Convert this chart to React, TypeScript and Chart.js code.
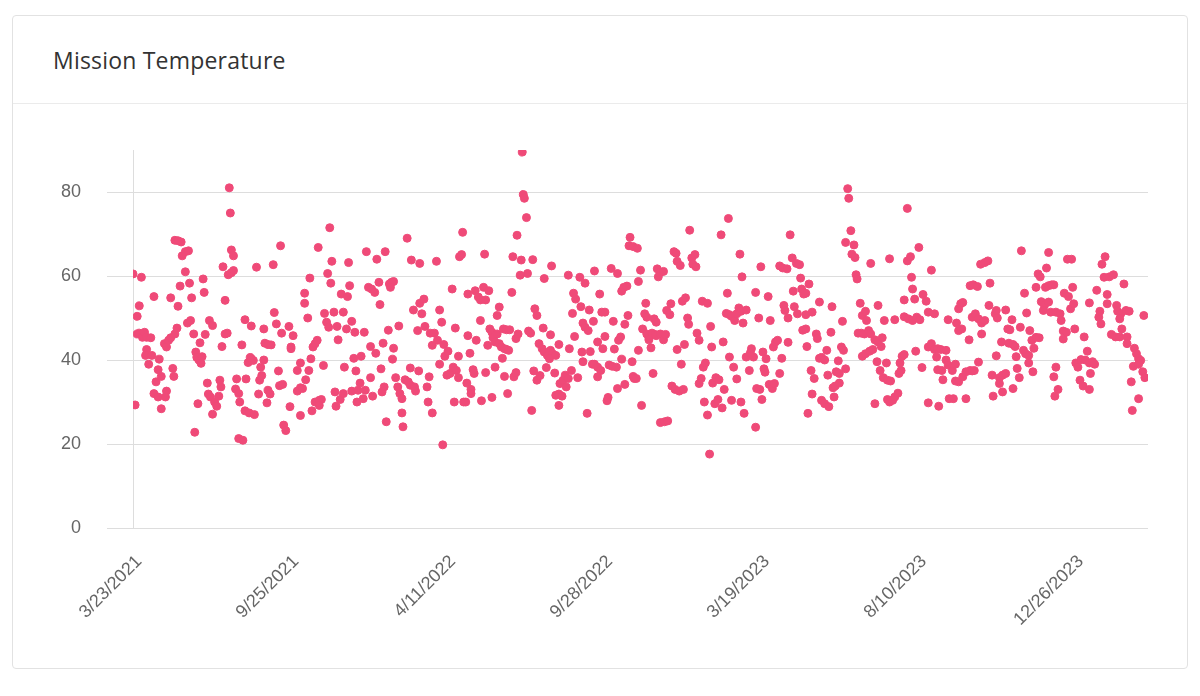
import { useEffect, useRef } from 'react';
import { Chart, registerables } from 'chart.js';

Chart.register(...registerables);

// x축 눈금에 표시되는 날짜 (150 샘플마다 하나)
const tickLabels = ['3/23/2021', '9/25/2021', '4/11/2022', '9/28/2022', '3/19/2023', '8/10/2023', '12/26/2023'];
const tickEvery = 150;
const lastSample = 970;

// 샘플 순번 (x)
const sampleDay = [
  0, 8, 2, 4, 6, 4, 6, 9, 11, 13,
  17, 13, 12, 15, 18, 20, 22, 20, 24, 24,
  25, 27, 27, 30, 32, 34, 36, 40, 42, 32,
  31, 36, 38, 39, 40, 43, 46, 43, 45, 47,
  50, 53, 50, 52, 55, 54, 56, 58, 59, 60,
  61, 63, 65, 66, 64, 62, 67, 68, 69, 71,
  72, 74, 78, 80, 76, 73, 76, 83, 84, 82,
  85, 86, 88, 90, 88, 91, 94, 96, 92, 93,
  94, 96, 99, 98, 101, 102, 101, 105, 104, 107,
  108, 107, 110, 113, 115, 112, 113, 111, 116, 118,
  120, 121, 123, 122, 125, 125, 126, 129, 132, 129,
  131, 128, 134, 135, 137, 139, 140, 143, 142, 141,
  144, 146, 149, 151, 150, 153, 151,
  157, 160, 160, 157, 162, 160, 164, 164, 167, 165,
  168, 169, 170, 171, 172, 174, 176, 174, 178, 180,
  178, 177, 182, 183, 185, 187, 186, 188, 189, 190,
  192, 193, 194, 195, 196, 198, 201, 199, 201, 202,
  204, 205, 206, 207, 209, 209, 211, 212, 213, 214,
  215, 217, 218, 220, 222, 221, 223, 225, 228, 231,
  227, 227, 229, 232, 233, 235, 236, 237, 238, 240,
  239, 241, 242, 244, 245, 247, 249, 246, 248, 249,
  251, 253, 255, 257, 254, 257, 258, 260, 263, 265,
  262, 265, 266, 268, 269, 270, 272, 273, 274, 274,
  276, 278, 279, 281, 282, 283, 284, 288, 286, 286,
  290, 291, 293, 293, 295, 296, 297, 298, 301, 300,
  303, 305, 306, 309, 307, 308, 311, 312, 314, 311,
  315, 316,
  320, 320, 322, 319, 318, 323, 323, 325, 326, 328,
  327, 330, 332, 335, 337, 340, 332, 333, 336, 337,
  339, 341, 343, 344, 346, 348, 350, 352, 355, 357,
  359, 343, 346, 348, 350, 353, 354, 357, 360, 355,
  358, 362, 363, 364, 366, 366, 368, 367, 370, 371,
  372, 373, 374, 376, 377, 378, 380, 381, 382, 383,
  384, 386, 386, 389, 388, 391, 393, 396, 399, 401,
  404, 407, 398, 392, 393, 395, 399, 400, 403, 404,
  407, 410, 407, 408, 411, 414, 413, 416, 416, 417,
  419, 420, 421, 423, 422, 425, 427, 428, 429, 430,
  430, 432, 432, 434, 435, 436, 437, 439, 441, 444,
  447, 440, 441, 444, 444, 446, 448, 451, 449, 451,
  453, 454, 455, 458, 462, 457, 463, 459, 460, 463,
  464, 466, 467, 469, 472, 467, 470, 470, 473, 475,
  474, 478, 477, 478, 479,
  482, 485, 483, 483, 481, 486, 487, 489, 490, 491,
  491, 493, 496, 499, 500, 504, 507, 509, 493, 495,
  497, 498, 500, 501, 504, 507, 502, 504, 508, 511,
  510, 513, 514, 515, 518, 522, 526, 517, 519, 520,
  523, 520, 524, 525, 527, 528, 530, 531, 532, 534,
  535, 538, 537, 539, 541, 541, 543, 544, 549, 545,
  547, 546, 549, 551, 552, 553, 554, 557, 560, 556,
  559, 563, 562, 564, 565, 567, 570, 572, 575, 577,
  579, 581, 583, 586, 568, 569, 570, 572, 574, 577,
  580, 581, 582, 584, 586, 589, 591, 593, 590, 595,
  595, 596, 599, 598, 600, 601, 602, 605, 603, 604,
  607, 608, 611, 613, 609, 612, 614, 616, 618, 621,
  625, 618, 620, 622, 623, 626, 626, 628, 630, 634,
  637, 631, 632, 635, 638, 639, 641, 640,
  646, 643, 643, 649, 643, 644, 645, 648, 651, 649,
  656, 653, 654, 658, 661, 665, 656, 658, 661, 663,
  664, 667, 668, 669, 671, 670, 672, 675, 674, 675,
  678, 677, 679, 681, 683, 684, 686, 681, 689, 687,
  690, 691, 692, 695, 693, 696, 699, 703, 705, 697,
  700, 704, 707, 697, 700, 701, 705, 709, 712, 716,
  715, 709, 711, 714, 712, 717, 720, 721, 724, 718,
  721, 723, 726, 728, 731, 723, 728, 732, 734, 733,
  735, 737, 737, 737, 741, 745, 749, 752, 740, 740,
  743, 751, 744, 745, 747, 748, 755, 758, 754, 760,
  760, 766, 763, 760, 763, 766, 769, 772, 777, 768,
  769, 773, 770, 774, 777, 779, 783, 786, 779, 780,
  784, 786, 789, 793, 787, 789, 792, 789, 791, 793,
  796, 796, 800, 802, 799, 800, 803, 802,
  807, 805, 808, 811, 814, 811, 808, 804, 810, 814,
  817, 819, 818, 821, 822, 824, 826, 825, 825, 828,
  831, 834, 828, 830, 831, 834, 836, 838, 837, 840,
  841, 843, 841, 844, 845, 847, 848, 849, 851, 853,
  856, 852, 854, 856, 857, 859, 860, 861, 863, 866,
  863, 865, 867, 868, 871, 870, 872, 875, 878, 880,
  873, 875, 875, 877, 882, 886, 880, 881, 884, 882,
  887, 889, 889, 892, 890, 894, 893, 897, 896, 898,
  899, 900, 901, 903, 906, 910, 914, 917, 919, 905,
  908, 914, 909, 912, 914, 915, 921, 923, 924, 925,
  926, 929, 928, 933, 937, 931, 931, 935, 939, 943,
  940, 941, 944, 943, 945, 947, 949, 952, 950, 950,
  954, 955, 957, 959, 961, 963, 956, 961, 961, 965,
  967, 966,
];

// 미션 온도 (y)
const missionTemp = [
  60.5, 59.7, 29.3, 50.4, 52.9, 46.2, 46.4, 45.4, 46.6, 45.4,
  45.3, 42.5, 41.1, 39, 41.1, 55.1, 34.8, 32, 31.2, 37.7,
  40.2, 36.1, 28.4, 43.9, 43.1, 44.7, 45.3, 46.2, 47.6, 32.6,
  31.2, 54.8, 38, 36.1, 68.5, 68.4, 68.1, 52.8, 57.6, 64.8,
  65.8, 66, 61, 48.8, 49.4, 58.3, 54.8, 46.2, 22.8, 41.9,
  40.6, 40, 39.2, 40.8, 44.1, 29.6, 59.3, 56.1, 46.1, 34.5,
  31.9, 31.2, 30, 29, 27.1, 49.4, 48.2, 35.2, 33.6, 31.4,
  43.2, 62.2, 46.2, 46.4, 54.2, 60.3, 60.8, 61.3, 81, 75,
  66.2, 64.8, 35.5, 33.1, 32, 30, 21.3, 20.9, 43.6, 49.6,
  35.5, 27.9, 39.4, 40.3, 39.9, 40.6, 48.1, 27.4, 27, 62.1,
  31.9, 35.2, 36.3, 38.3, 40, 47.4, 44, 43.7, 43.6, 32.8,
  31.9, 29.8, 62.7, 51.3, 48.6, 37.4, 33.9, 34.2, 46.4, 67.2,
  24.5, 23.2, 48, 43.1, 28.9, 45.8, 42.7,
  37.5, 39.3, 33.4, 32.6, 33.2, 26.8, 53.5, 55.9, 50, 35.3,
  37.5, 59.5, 40.3, 27.9, 43.1, 43.9, 44.7, 30, 30.4, 30.6,
  29.2, 66.8, 38.7, 51.1, 49, 47.8, 60.6, 71.5, 58.3, 63.5,
  51.4, 32.4, 29, 48, 44.8, 30.6, 32, 55.7, 51.4, 38.3,
  47.4, 55.1, 63.2, 57.7, 49.2, 32.6, 40.4, 46.6, 37.4, 30,
  32.8, 34.5, 40.9, 30.8, 32.8, 46.6, 65.8, 57.3, 56.9, 56.1,
  43.2, 35.8, 31.4, 41.6, 64, 58.5, 53.2, 37.9, 32.4, 33.6,
  44, 65.8, 25.3, 47.1, 58.1, 58.5, 58.7, 57.3, 40.2, 42.8,
  35.8, 33.6, 32, 30.8, 48.1, 27.4, 24.1, 35.3, 34.8, 34,
  69, 38.1, 63.8, 51.9, 33.6, 32.6, 47, 37.4, 63, 53.5,
  51, 54.5, 48, 33.6, 30, 36, 46.4, 46.4, 27.4, 43.5,
  63.5, 44.7, 39, 51.9, 49, 19.8, 43.7, 40.9, 42.1, 36.4,
  36.8, 56.9, 38.3, 37.5, 30, 47.6, 40.9, 64.6, 65.1, 35.8,
  70.4, 30,
  55.7, 45.8, 41.6, 34.5, 30, 33, 32, 37.7, 36.8, 44.7,
  56.5, 55, 54.3, 57.3, 54.3, 56.5, 49.4, 30.3, 65.2, 37,
  43.5, 47.4, 46.6, 45.3, 44.3, 46.2, 43.9, 43.1, 42.7, 42.5,
  42.3, 31.1, 38.3, 50.6, 52.6, 40.4, 47.4, 47.2, 47.2, 36.1,
  32, 56.1, 64.6, 36, 37, 45.1, 46.2, 69.7, 60.2, 63.8,
  89.5, 79.4, 78.5, 73.9, 60.6, 46.9, 46.4, 28, 63.9, 37.4,
  52.2, 50.6, 35.2, 36.3, 43.9, 42.7, 41.9, 41.1, 42.3, 41.5,
  41.1, 43.7, 40.3, 47.6, 59.4, 38.2, 46, 62.4, 36.9, 31.6,
  31.9, 31.4, 29.2, 34.4, 35.2, 33.6, 36.4, 35.6, 60.2, 42.7,
  37.5, 51.1, 55.9, 54.5, 45.6, 35.8, 59.7, 52.7, 41.9, 39.6,
  48.8, 47.8, 58.3, 27.3, 47, 51.9, 42, 39, 39, 38.3,
  37.5, 49.2, 61.2, 36, 44.3, 55.7, 51.4, 51.4, 42.7, 45.6,
  30.3, 31.1, 38.8, 38.5, 38.3, 61.8, 60.6, 49.2, 42.6, 33.2,
  44.7, 45.5, 56.4, 57.3, 57.6, 40.2, 48.5, 34.2, 50.6, 69.2,
  67.2, 67, 39.6, 36.1, 35.6,
  66.6, 61.4, 58.7, 42.3, 35.6, 29.2, 47.4, 51, 53.5, 50.2,
  46.2, 45.3, 46.4, 46.1, 45.8, 46.2, 44.8, 46.1, 44.8, 42.9,
  36.8, 49.8, 49, 61.7, 60.9, 61.1, 59.8, 25.1, 25.3, 25.5,
  51.8, 50.8, 53.4, 33.8, 33, 32.6, 33, 65.8, 65.4, 63.5,
  62.5, 42.5, 39, 54, 43.7, 54.8, 50, 48.5, 70.9, 64.3,
  62.8, 62.2, 65.1, 46.4, 44.7, 34.4, 35.6, 54, 53.5, 38.3,
  39.3, 30, 26.9, 17.6, 48, 43.1, 34.5, 35.8, 35.3, 29.6,
  30.6, 28.6, 69.8, 44.3, 33, 51.1, 50.8, 50.4, 49.4, 51,
  52.4, 51.6, 48.8, 51.9, 55.9, 73.7, 40.7, 30.4, 38.3, 35.5,
  65.2, 30, 59.8, 27.3, 40.7, 37.5, 42.7, 40.7, 41.7, 24,
  56.1, 33.2, 33, 50, 62.2, 30.6, 41.9, 40.3, 37.9, 37.1,
  55.1, 34.2, 33.2, 34.4, 49.4, 43.1, 44.3, 44.7, 62.4, 61.9,
  61.7, 36.8, 40.4, 53, 51.8, 50, 44.2, 69.8, 64.3, 63,
  62.7, 56.4, 52.7, 51, 59.5, 56.9, 55.7, 47.1,
  58.1, 55.9, 50.8, 51.4, 47.4, 43.2, 27.3, 37.5, 35.6, 31.9,
  53.8, 46.2, 45.1, 30.4, 29.6, 28.9, 40.4, 40.6, 40, 42.3,
  36.4, 46.6, 52.7, 33.4, 33.8, 31.2, 37.2, 36.8, 39.8, 34.5,
  49.2, 43.1, 42.3, 37.9, 80.8, 78.5, 70.8, 68, 67.4, 65.2,
  64.4, 60.3, 59.3, 53.5, 46.4, 46.4, 46.2, 47, 46.2, 40.9,
  41.5, 42.1, 42.5, 50.6, 51.6, 49.4, 63, 44.8, 44.3, 45.3,
  43.2, 29.6, 39.6, 37.5, 53, 35.8, 39.3, 35.2, 35, 49.4,
  30.6, 30, 30.4, 31.2, 32.1, 64.1, 49.6, 36.8, 37.5, 39.3,
  40.9, 41.3, 54.3, 50.3, 49.8, 49.4, 50.2, 49.6, 76.1, 63.6,
  64.6, 66.8, 59.7, 56.9, 54.5, 42.1, 55.6, 54, 38.2, 29.8,
  51.4, 51, 61.4, 43.1, 43.9, 42.5, 42.7, 42.5, 42.3, 40.7,
  37.7, 37.5, 29, 35.3, 40, 38.8, 37.5, 39, 49.6, 30.8,
  30.8, 35, 34.8, 36, 48.8, 47, 47.4, 52.2, 53.4, 53.7,
  30.8, 37.2, 37.5, 37.4, 44.8, 57.7, 57.9, 50.2,
  57.5, 51, 49.8, 48.8, 49.4, 46.2, 39.5, 37.5, 62.8, 63.2,
  63.6, 58.3, 53, 36.4, 31.4, 51, 50, 51.8, 41, 35.8,
  36.4, 36.8, 34.4, 44.3, 32.4, 51.9, 47.4, 47.2, 44, 49.6,
  43.7, 43.2, 33.2, 40.8, 38, 35.8, 47.8, 66, 42.3, 41.5,
  41.1, 55.9, 51.2, 39.3, 47, 44.7, 37.2, 42.8, 45.4, 45.3,
  57.3, 60.5, 59.8, 53.9, 53, 51.8, 57.3, 57.7, 57.9, 57.9,
  61.9, 65.6, 53.8, 51.4, 51.4, 51, 36, 31.4, 33, 38.3,
  49.4, 45, 46.9, 46.6, 55.9, 55.1, 64, 64, 52.2, 57.3,
  53.4, 47.4, 39.3, 38.3, 40.1, 40, 39.3, 39.6, 39, 35.2,
  33.8, 33, 45.5, 42.1, 53.6, 36.8, 56.6, 50.2, 51.6, 48.6,
  62.8, 64.6, 59.7, 59.8, 60.3, 55.6, 53.4, 46.1, 45.5, 45.5,
  53, 51.6, 51, 49.8, 47.4, 58.1, 51.8, 51.6, 45.5, 43.9,
  34.8, 28, 42.8, 41.5, 40.3, 39.9, 38.5, 39, 30.8, 37.2,
  35.8, 50.6,
];

const yTicks = { min: 0, max: 90, step: 20 };

function TemperatureChart() {
  const canvasRef = useRef<HTMLCanvasElement>(null);
  const chartRef = useRef<Chart | null>(null);

  useEffect(() => {
    if (!canvasRef.current) return;
    if (chartRef.current) chartRef.current.destroy();

    const tickFont = { family: '"Liberation Sans", Arial, Helvetica, sans-serif', size: 18 };
    const points = sampleDay.map((x, i) => ({ x, y: missionTemp[i] }));

    chartRef.current = new Chart(canvasRef.current, {
      type: 'scatter',
      data: {
        datasets: [
          {
            label: 'Mission Temperature',
            data: points,
            backgroundColor: '#ef4a78',
            borderColor: '#ef4a78',
            borderWidth: 1,
            pointRadius: 4,
          },
        ],
      },
      options: {
        animation: false,
        responsive: true,
        maintainAspectRatio: false,
        layout: { padding: { top: 46, left: 22, right: 39, bottom: 15 } },
        plugins: {
          legend: { display: false },
          tooltip: { enabled: false },
        },
        scales: {
          x: {
            type: 'linear',
            min: 0,
            max: lastSample,
            grid: { display: false, drawTicks: false },
            border: { display: false },
            // 회전된 첫 라벨 때문에 차트 영역이 밀리지 않도록
            afterFit: (scale) => {
              scale.paddingLeft = 0;
            },
            ticks: {
              stepSize: tickEvery,
              includeBounds: false,
              autoSkip: false,
              minRotation: 45,
              maxRotation: 45,
              padding: 23,
              labelOffset: 6,
              color: '#666',
              font: tickFont,
              callback: (v) => tickLabels[Math.round(Number(v) / tickEvery)] ?? '',
            },
          },
          y: {
            min: yTicks.min,
            max: yTicks.max,
            grid: { color: '#dddddd', tickLength: 26 },
            border: { color: '#dddddd' },
            ticks: {
              stepSize: yTicks.step,
              includeBounds: false,
              padding: 26,
              color: '#666',
              font: tickFont,
            },
          },
        },
      },
    });

    return () => {
      if (chartRef.current) {
        chartRef.current.destroy();
        chartRef.current = null;
      }
    };
  }, []);

  return (
    <div style={{ position: 'relative', height: 564 }}>
      <canvas ref={canvasRef} />
    </div>
  );
}

export default function App() {
  return (
    <div
      style={{
        margin: '7px 4px 0',
        height: 654,
        boxSizing: 'border-box',
        border: '1px solid #e2e2e2',
        borderRadius: 4,
        background: '#fff',
        overflow: 'hidden',
      }}
    >
      <div
        style={{
          height: 87,
          borderBottom: '1px solid #ebebeb',
          paddingLeft: 40,
          display: 'flex',
          alignItems: 'center',
          fontFamily: '"Open Sans", "Noto Sans", sans-serif',
          fontSize: 23,
          letterSpacing: 0.2,
          color: '#333',
        }}
      >
        Mission Temperature
      </div>
      <TemperatureChart />
    </div>
  );
}
